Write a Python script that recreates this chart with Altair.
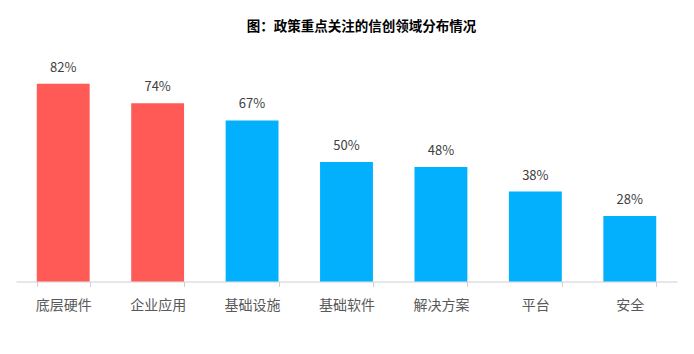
import altair as alt
import pandas as pd

categories = ["底层硬件", "企业应用", "基础设施", "基础软件", "解决方案", "平台", "安全"]
values = [82, 74, 67, 50, 48, 38, 28]
groups = ["red", "red", "blue", "blue", "blue", "blue", "blue"]
labels = ["82%", "74%", "67%", "50%", "48%", "38%", "28%"]

df = pd.DataFrame({"cat": categories, "val": values, "grp": groups, "lab": labels})

FONT = "Noto Sans CJK SC"

x = alt.X("cat:N", sort=categories, title=None,
          scale=alt.Scale(paddingInner=0.44, paddingOuter=0.22),
          axis=alt.Axis(labelAngle=0, labelFontSize=14, labelColor="#595959", labelFont=FONT,
                        domainColor="#cfcfcf", tickColor="#cfcfcf", tickSize=5,
                        tickBand="extent", labelPadding=12, domainWidth=1, tickWidth=1))
y = alt.Y("val:Q", scale=alt.Scale(domain=[1.3, 100], clamp=True, nice=False, zero=False), axis=None)

bars = alt.Chart(df).mark_bar().encode(
    x=x, y=y,
    color=alt.Color("grp:N", scale=alt.Scale(domain=["red", "blue"], range=["#FF5A55", "#02B0FE"]), legend=None),
)

text = alt.Chart(df).mark_text(dy=-16, fontSize=13, color="#404040", font=FONT, baseline="middle").encode(
    x=alt.X("cat:N", sort=categories), y=y, text="lab:N"
)

chart = (bars + text).properties(
    width=661, height=242,
    title=alt.TitleParams("图：政策重点关注的信创领域分布情况", fontSize=13.5, fontWeight="bold",
                          font=FONT, color="#000000", anchor="middle", dx=15, offset=6),
    autosize=alt.AutoSizeParams(type="none"),
    padding={"left": 16, "top": 39.5, "right": 17, "bottom": 72.5},
).configure_view(stroke=None).configure_axis(grid=False)

chart.save("out.html", embed_options={"renderer": "svg", "actions": False})
